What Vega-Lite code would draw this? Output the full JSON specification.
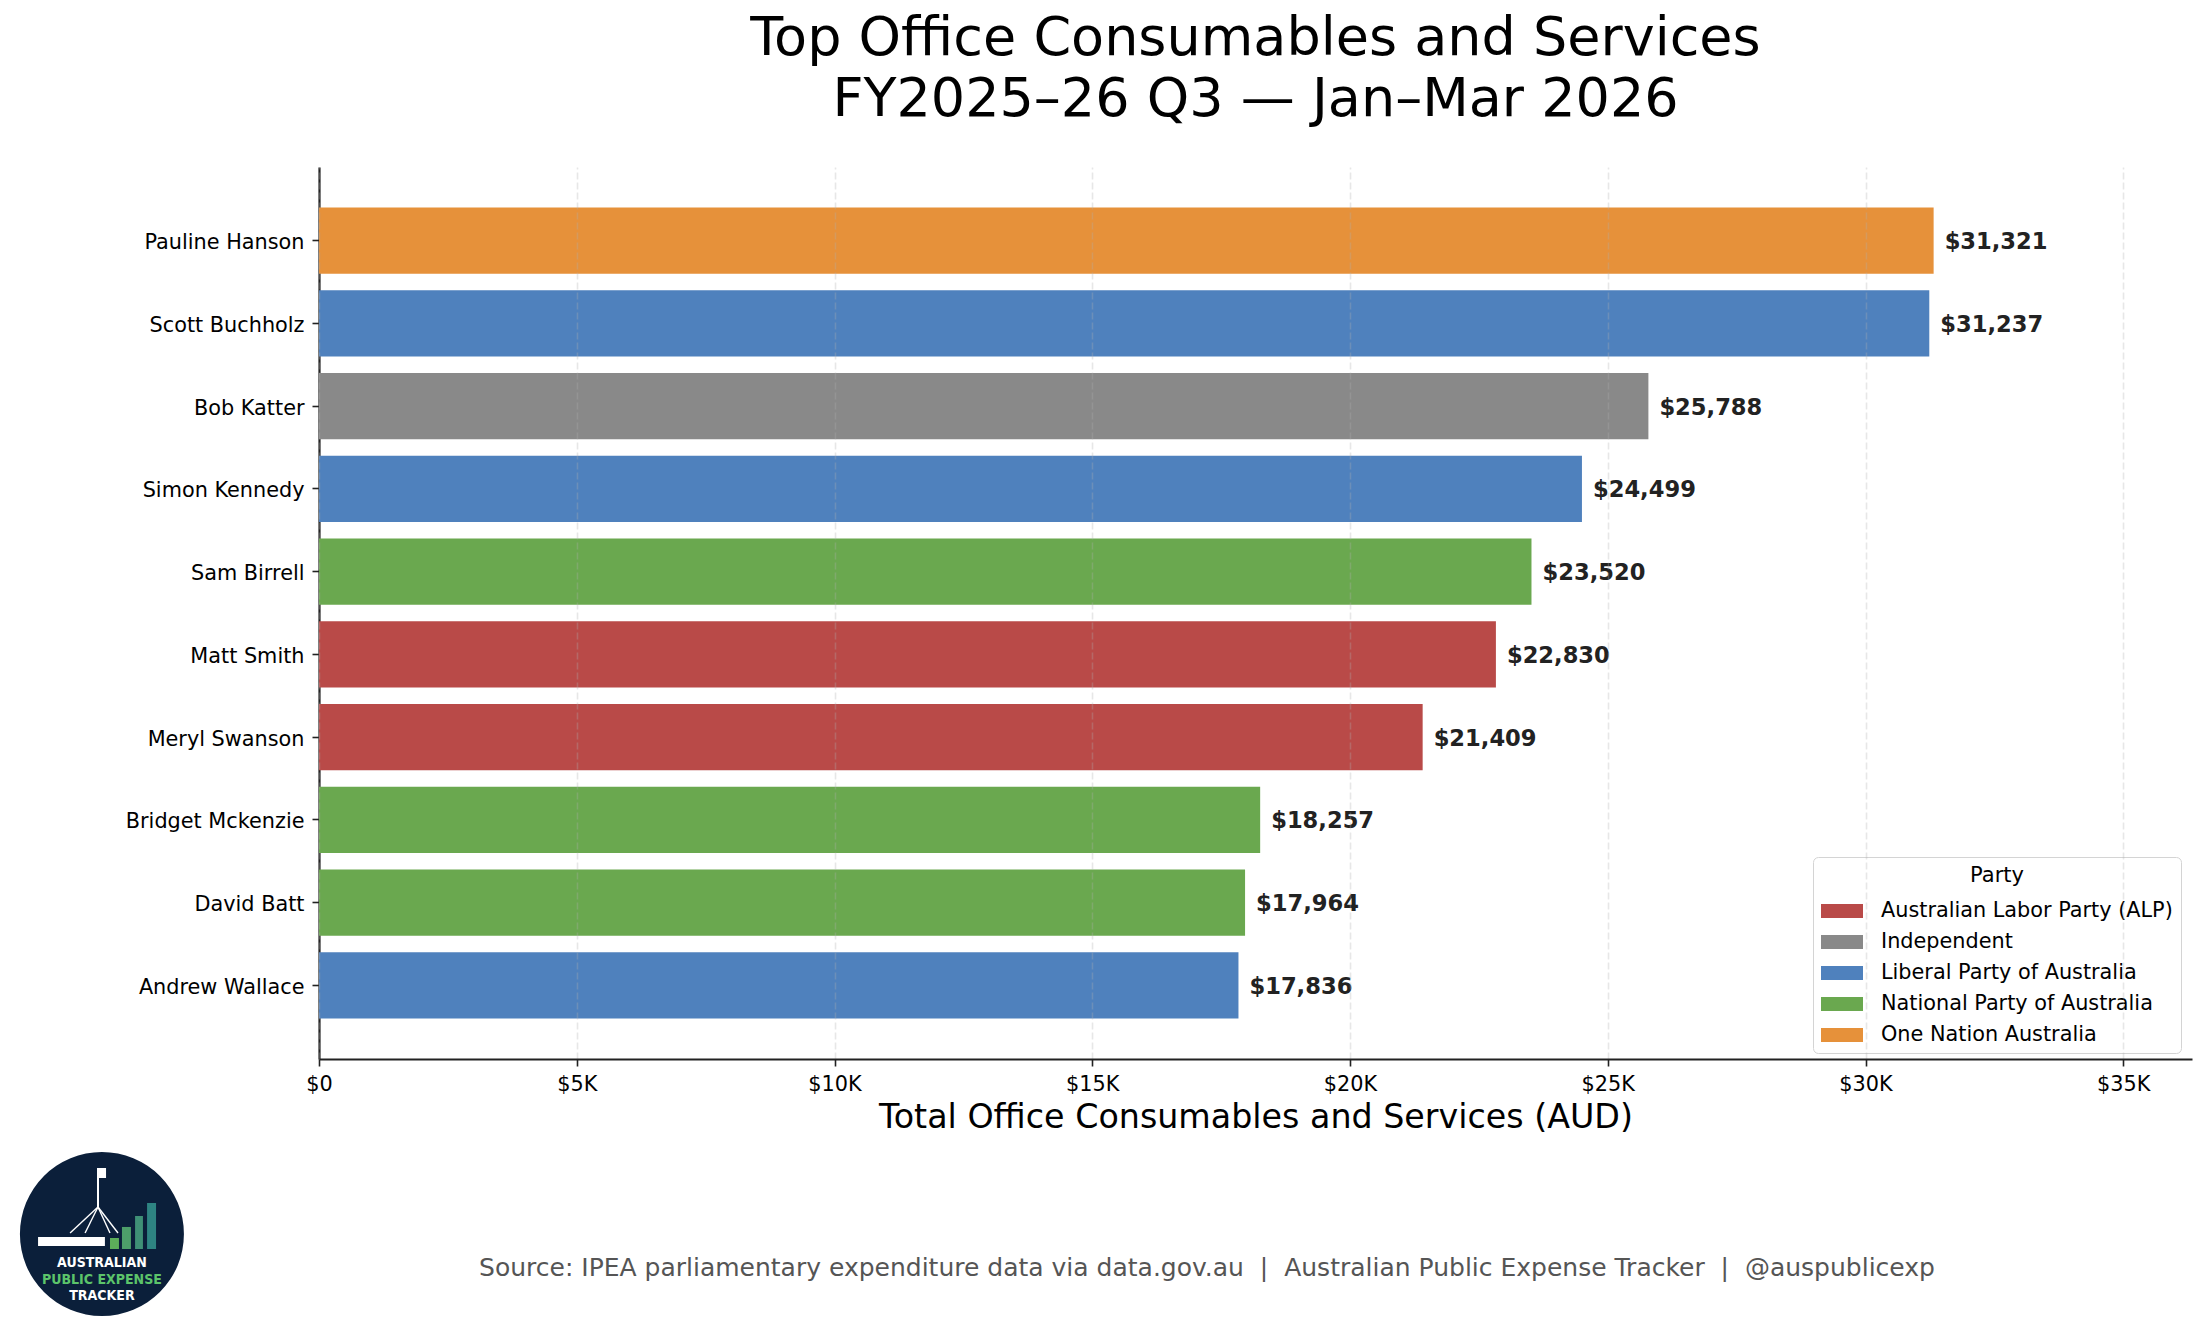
{
  "$schema": "https://vega.github.io/schema/vega-lite/v6.json",
  "width": 1873,
  "height": 892,
  "autosize": {"type": "none"},
  "padding": {"left": 319, "top": 167, "right": 13, "bottom": 278},
  "background": "white",
  "title": {
    "text": ["Top Office Consumables and Services", "FY2025–26 Q3 — Jan–Mar 2026"],
    "fontSize": 54,
    "fontWeight": "normal",
    "font": "DejaVu Sans",
    "color": "#000000",
    "anchor": "middle",
    "frame": "group",
    "lineHeight": 61,
    "offset": 40
  },
  "config": {"view": {"stroke": null}, "font": "DejaVu Sans"},
  "resolve": {
    "scale": {"x": "independent", "y": "independent"},
    "axis": {"x": "independent", "y": "independent"}
  },
  "layer": [
    {
      "data": {
        "values": [
          {"Name": "Pauline Hanson", "Party": "One Nation Australia", "Amount": 31321},
          {"Name": "Scott Buchholz", "Party": "Liberal Party of Australia", "Amount": 31237},
          {"Name": "Bob Katter", "Party": "Independent", "Amount": 25788},
          {"Name": "Simon Kennedy", "Party": "Liberal Party of Australia", "Amount": 24499},
          {"Name": "Sam Birrell", "Party": "National Party of Australia", "Amount": 23520},
          {"Name": "Matt Smith", "Party": "Australian Labor Party (ALP)", "Amount": 22830},
          {"Name": "Meryl Swanson", "Party": "Australian Labor Party (ALP)", "Amount": 21409},
          {"Name": "Bridget Mckenzie", "Party": "National Party of Australia", "Amount": 18257},
          {"Name": "David Batt", "Party": "National Party of Australia", "Amount": 17964},
          {"Name": "Andrew Wallace", "Party": "Liberal Party of Australia", "Amount": 17836}
        ]
      },
      "encoding": {
        "x": {
          "field": "Amount",
          "type": "quantitative",
          "scale": {"domain": [0, 36333], "nice": false, "zero": true},
          "axis": {
            "title": "Total Office Consumables and Services (AUD)",
            "values": [0, 5000, 10000, 15000, 20000, 25000, 30000, 35000],
            "labelExpr": "datum.value == 0 ? '$0' : '$' + (datum.value / 1000) + 'K'",
            "labelFont": "DejaVu Sans",
            "labelFontSize": 20.8,
            "labelColor": "#000000",
            "labelPadding": 8,
            "labelFlush": false,
            "labelOverlap": false,
            "tickSize": 7,
            "tickColor": "#222222",
            "tickWidth": 1.6,
            "domainColor": "#222222",
            "domainWidth": 2.2,
            "grid": true,
            "gridColor": "#b0b0b0",
            "gridOpacity": 0.3,
            "gridDash": [7, 3],
            "gridWidth": 1.6,
            "titleFont": "DejaVu Sans",
            "titleFontSize": 33.3,
            "titleFontWeight": "normal",
            "titleColor": "#000000",
            "titlePadding": 8,
            "zindex": 1
          }
        },
        "y": {
          "field": "Name",
          "type": "nominal",
          "sort": null,
          "scale": {"paddingInner": 0.2, "paddingOuter": 0.49},
          "axis": {
            "title": null,
            "labelFont": "DejaVu Sans",
            "labelFontSize": 20.8,
            "labelColor": "#000000",
            "labelPadding": 8,
            "labelOffset": 2.5,
            "labelLimit": 400,
            "tickSize": 7,
            "tickColor": "#222222",
            "tickWidth": 1.6,
            "domainColor": "#222222",
            "domainWidth": 2.2,
            "grid": false
          }
        }
      },
      "layer": [
        {
          "mark": {"type": "bar"},
          "encoding": {
            "color": {
              "field": "Party",
              "type": "nominal",
              "scale": {
                "domain": ["Australian Labor Party (ALP)", "Independent", "Liberal Party of Australia", "National Party of Australia", "One Nation Australia"],
                "range": ["#b94a48", "#898989", "#4f81bd", "#6aa84f", "#e6913a"]
              },
              "legend": {
                "title": "Party",
                "orient": "none",
                "legendX": 1494,
                "legendY": 690,
                "fillColor": "white",
                "strokeColor": "#d4d4d4",
                "cornerRadius": 5,
                "padding": 8,
                "titleFont": "DejaVu Sans",
                "titleFontSize": 21,
                "titleFontWeight": "normal",
                "titleColor": "#000000",
                "titleAnchor": "middle",
                "titlePadding": 4,
                "labelFont": "DejaVu Sans",
                "labelFontSize": 20.8,
                "labelColor": "#000000",
                "labelLimit": 400,
                "labelOffset": 18,
                "rowPadding": -1.7,
                "symbolType": "M-1,-0.333H1V0.333H-1Z",
                "symbolSize": 1764,
                "symbolStrokeWidth": 0,
                "symbolOpacity": 1
              }
            }
          }
        },
        {
          "mark": {
            "type": "text",
            "align": "left",
            "baseline": "middle",
            "dx": 11,
            "dy": 1.5,
            "font": "DejaVu Sans",
            "fontSize": 22.6,
            "fontWeight": "bold",
            "color": "#222222"
          },
          "encoding": {
            "text": {"field": "Amount", "type": "quantitative", "format": "$,.0f"}
          }
        }
      ]
    },
    {
      "layer": [
        {
          "data": {"values": [{"badge": "Australian Public Expense Tracker"}]},
          "mark": {"type": "point", "shape": "circle", "filled": true, "color": "#0b1f3a", "opacity": 1, "size": 26896},
          "encoding": {
            "x": {"datum": -0.1159, "type": "quantitative", "scale": {"domain": [0, 1], "nice": false, "zero": false}, "axis": null},
            "y": {"datum": -0.1962, "type": "quantitative", "scale": {"domain": [0, 1], "nice": false, "zero": false}, "axis": null}
          }
        },
        {
          "data": {"values": [{"badge": "flagpole"}]},
          "mark": {"type": "rule", "color": "white", "strokeWidth": 2},
          "encoding": {
            "x": {"datum": -0.1180, "type": "quantitative"},
            "y": {"datum": -0.1222, "type": "quantitative"},
            "y2": {"datum": -0.1659}
          }
        },
        {
          "data": {"values": [{"badge": "leg"}]},
          "mark": {"type": "rule", "color": "white", "strokeWidth": 1.4},
          "encoding": {
            "x": {"datum": -0.1180, "type": "quantitative"},
            "y": {"datum": -0.1659, "type": "quantitative"},
            "x2": {"datum": -0.1329},
            "y2": {"datum": -0.1951}
          }
        },
        {
          "data": {"values": [{"badge": "leg"}]},
          "mark": {"type": "rule", "color": "white", "strokeWidth": 1.4},
          "encoding": {
            "x": {"datum": -0.1180, "type": "quantitative"},
            "y": {"datum": -0.1659, "type": "quantitative"},
            "x2": {"datum": -0.1249},
            "y2": {"datum": -0.1951}
          }
        },
        {
          "data": {"values": [{"badge": "leg"}]},
          "mark": {"type": "rule", "color": "white", "strokeWidth": 1.4},
          "encoding": {
            "x": {"datum": -0.1180, "type": "quantitative"},
            "y": {"datum": -0.1659, "type": "quantitative"},
            "x2": {"datum": -0.1116},
            "y2": {"datum": -0.1951}
          }
        },
        {
          "data": {"values": [{"badge": "leg"}]},
          "mark": {"type": "rule", "color": "white", "strokeWidth": 1.4},
          "encoding": {
            "x": {"datum": -0.1180, "type": "quantitative"},
            "y": {"datum": -0.1659, "type": "quantitative"},
            "x2": {"datum": -0.1073},
            "y2": {"datum": -0.1951}
          }
        },
        {
          "data": {"values": [{"badge": "flag"}]},
          "mark": {"type": "rect", "color": "white"},
          "encoding": {
            "x": {"datum": -0.1180, "type": "quantitative"},
            "x2": {"datum": -0.1137},
            "y": {"datum": -0.1222, "type": "quantitative"},
            "y2": {"datum": -0.1334}
          }
        },
        {
          "data": {"values": [{"badge": "building"}]},
          "mark": {"type": "rect", "color": "white"},
          "encoding": {
            "x": {"datum": -0.1500, "type": "quantitative"},
            "x2": {"datum": -0.1143},
            "y": {"datum": -0.1996, "type": "quantitative"},
            "y2": {"datum": -0.2096}
          }
        },
        {
          "data": {"values": [{"badge": "bar"}]},
          "mark": {"type": "rect", "color": "#5cae5a"},
          "encoding": {
            "x": {"datum": -0.1116, "type": "quantitative"},
            "x2": {"datum": -0.1068},
            "y": {"datum": -0.2007, "type": "quantitative"},
            "y2": {"datum": -0.2130}
          }
        },
        {
          "data": {"values": [{"badge": "bar"}]},
          "mark": {"type": "rect", "color": "#4d9f6a"},
          "encoding": {
            "x": {"datum": -0.1052, "type": "quantitative"},
            "x2": {"datum": -0.1004},
            "y": {"datum": -0.1883, "type": "quantitative"},
            "y2": {"datum": -0.2130}
          }
        },
        {
          "data": {"values": [{"badge": "bar"}]},
          "mark": {"type": "rect", "color": "#3f9076"},
          "encoding": {
            "x": {"datum": -0.0982, "type": "quantitative"},
            "x2": {"datum": -0.0940},
            "y": {"datum": -0.1760, "type": "quantitative"},
            "y2": {"datum": -0.2130}
          }
        },
        {
          "data": {"values": [{"badge": "bar"}]},
          "mark": {"type": "rect", "color": "#2e8482"},
          "encoding": {
            "x": {"datum": -0.0918, "type": "quantitative"},
            "x2": {"datum": -0.0870},
            "y": {"datum": -0.1614, "type": "quantitative"},
            "y2": {"datum": -0.2130}
          }
        },
        {
          "data": {"values": [{"line": "AUSTRALIAN"}]},
          "mark": {"type": "text", "align": "center", "baseline": "middle", "font": "DejaVu Sans Condensed, DejaVu Sans", "fontSize": 14, "fontWeight": "bold", "color": "white"},
          "encoding": {
            "text": {"field": "line"},
            "x": {"datum": -0.1159, "type": "quantitative"},
            "y": {"datum": -0.2290, "type": "quantitative"}
          }
        },
        {
          "data": {"values": [{"line": "PUBLIC EXPENSE"}]},
          "mark": {"type": "text", "align": "center", "baseline": "middle", "font": "DejaVu Sans Condensed, DejaVu Sans", "fontSize": 14, "fontWeight": "bold", "color": "#5cc46a"},
          "encoding": {
            "text": {"field": "line"},
            "x": {"datum": -0.1159, "type": "quantitative"},
            "y": {"datum": -0.2480, "type": "quantitative"}
          }
        },
        {
          "data": {"values": [{"line": "TRACKER"}]},
          "mark": {"type": "text", "align": "center", "baseline": "middle", "font": "DejaVu Sans Condensed, DejaVu Sans", "fontSize": 14, "fontWeight": "bold", "color": "white"},
          "encoding": {
            "text": {"field": "line"},
            "x": {"datum": -0.1159, "type": "quantitative"},
            "y": {"datum": -0.2660, "type": "quantitative"}
          }
        },
        {
          "data": {"values": [{"note": "Source: IPEA parliamentary expenditure data via data.gov.au \u00a0|\u00a0 Australian Public Expense Tracker \u00a0|\u00a0 @auspublicexp"}]},
          "mark": {"type": "text", "align": "center", "baseline": "alphabetic", "font": "DejaVu Sans", "fontSize": 25, "color": "#555555"},
          "encoding": {
            "text": {"field": "note"},
            "x": {"datum": 0.4741, "type": "quantitative"},
            "y": {"datum": -0.2433, "type": "quantitative"}
          }
        }
      ]
    }
  ]
}
